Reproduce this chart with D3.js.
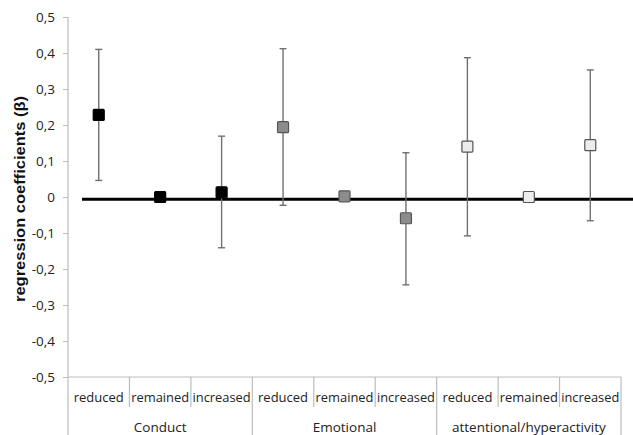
<!DOCTYPE html>
<html><head><meta charset="utf-8">
<script src="https://cdn.jsdelivr.net/npm/d3@7"></script>
<style>body{margin:0;background:#fff}svg{display:block}</style>
</head><body>
<script>
const groups = ["Conduct", "Emotional", "attentional/hyperactivity"];
const levels = ["reduced", "remained", "increased"];
const conductValues = [0.228, 0.0, 0.013];
const conductUpper = [0.41, null, 0.169];
const conductLower = [0.046, null, -0.141];
const emotionalValues = [0.194, 0.002, -0.059];
const emotionalUpper = [0.412, null, 0.123];
const emotionalLower = [-0.023, null, -0.244];
const attentionValues = [0.14, 0.0, 0.144];
const attentionUpper = [0.387, null, 0.353];
const attentionLower = [-0.108, null, -0.066];
const yTicks = [0.5, 0.4, 0.3, 0.2, 0.1, 0, -0.1, -0.2, -0.3, -0.4, -0.5];
const yTickLabels = ["0,5", "0,4", "0,3", "0,2", "0,1", "0", "-0,1", "-0,2", "-0,3", "-0,4", "-0,5"];
const refValue = -0.006;

const W = 633, H = 435;
const m = {left: 68, right: 12, top: 17, bottom: 58};
const svg = d3.select("body").append("svg").attr("width", W).attr("height", H);
const font = "'Open Sans', sans-serif";

const fills = ["#000000", "#8c8c8c", "#ececec"];
const strokes = ["#000000", "#555555", "#555555"];
const series = [
  {v: conductValues, u: conductUpper, l: conductLower},
  {v: emotionalValues, u: emotionalUpper, l: emotionalLower},
  {v: attentionValues, u: attentionUpper, l: attentionLower}
];
const data = [];
series.forEach((s, gi) => levels.forEach((lv, li) => data.push({
  key: gi + "-" + li, gi, li, level: lv, v: s.v[li], u: s.u[li], l: s.l[li]
})));

const x = d3.scaleBand().domain(data.map(d => d.key)).range([m.left, W - m.right]).padding(0);
const xg = d3.scaleBand().domain(groups).range([m.left, W - m.right]).padding(0);
const y = d3.scaleLinear().domain([-0.5, 0.5]).range([H - m.bottom, m.top]);

// Y axis
const yAxis = d3.axisLeft(y).tickValues(yTicks).tickSize(5).tickSizeOuter(0)
  .tickFormat((d, i) => yTickLabels[i]);
const ya = svg.append("g").attr("transform", `translate(${m.left},0)`).call(yAxis);
ya.select(".domain").remove();
ya.selectAll(".tick line").attr("stroke", "#bdbdbd");
ya.selectAll(".tick text").attr("font-family", font).attr("font-size", 13.5).attr("fill", "#222").attr("x", -13);
svg.append("line").attr("x1", m.left).attr("x2", m.left).attr("y1", m.top).attr("y2", H)
  .attr("stroke", "#bdbdbd").attr("stroke-width", 1.2);

// Category axis
const bottom = y(-0.5);
svg.append("line").attr("x1", m.left).attr("x2", W - m.right).attr("y1", bottom).attr("y2", bottom)
  .attr("stroke", "#bdbdbd").attr("stroke-width", 1.2);
data.forEach((d, i) => {
  if (i === 0) return;
  const xx = x(d.key);
  const isGroup = d.li === 0;
  svg.append("line").attr("x1", xx).attr("x2", xx).attr("y1", bottom).attr("y2", isGroup ? H : 407)
    .attr("stroke", "#bdbdbd").attr("stroke-width", 1.2);
});
svg.append("line").attr("x1", W - m.right).attr("x2", W - m.right).attr("y1", bottom).attr("y2", H)
  .attr("stroke", "#bdbdbd").attr("stroke-width", 1.2);
svg.append("g").selectAll("text").data(data).join("text")
  .attr("x", d => x(d.key) + x.bandwidth() / 2).attr("y", 402)
  .attr("text-anchor", "middle").attr("font-family", font).attr("font-size", 13.5).attr("fill", "#222")
  .attr("textLength", d => d.level === "reduced" ? 50 : 58)
  .attr("lengthAdjust", "spacingAndGlyphs")
  .text(d => d.level);
svg.append("g").selectAll("text").data(groups).join("text")
  .attr("x", d => xg(d) + xg.bandwidth() / 2).attr("y", 432)
  .attr("text-anchor", "middle").attr("font-family", font).attr("font-size", 13.5).attr("fill", "#222")
  .text(d => d);

// Y title
svg.append("text").attr("transform", `translate(25,${(m.top + bottom) / 2 + 2}) rotate(-90)`)
  .attr("text-anchor", "middle").attr("font-family", "'Liberation Sans', Arial, sans-serif").attr("font-weight", "bold")
  .attr("font-size", 14).attr("fill", "#111").attr("textLength", 206).attr("lengthAdjust", "spacingAndGlyphs")
  .text("regression coefficients (β)");

// reference line
svg.append("line").attr("x1", 82).attr("x2", W).attr("y1", y(refValue)).attr("y2", y(refValue))
  .attr("stroke", "#000").attr("stroke-width", 3);

// error bars
const eb = data.filter(d => d.u != null);
const cx = d => x(d.key) + x.bandwidth() / 2;
const g = svg.append("g").attr("stroke", "#707070").attr("stroke-width", 1.4);
g.selectAll(".v").data(eb).join("line").attr("x1", cx).attr("x2", cx).attr("y1", d => y(d.u)).attr("y2", d => y(d.l));
g.selectAll(".cu").data(eb).join("line").attr("x1", d => cx(d) - 3.5).attr("x2", d => cx(d) + 3.5).attr("y1", d => y(d.u)).attr("y2", d => y(d.u));
g.selectAll(".cl").data(eb).join("line").attr("x1", d => cx(d) - 3.5).attr("x2", d => cx(d) + 3.5).attr("y1", d => y(d.l)).attr("y2", d => y(d.l));

// markers
svg.append("g").selectAll("rect").data(data).join("rect")
  .attr("x", d => cx(d) - 5.5).attr("y", d => y(d.v) - 5.5).attr("width", 11).attr("height", 11)
  .attr("rx", 1).attr("fill", d => fills[d.gi]).attr("stroke", d => strokes[d.gi]).attr("stroke-width", 1.2);
</script>
</body></html>
